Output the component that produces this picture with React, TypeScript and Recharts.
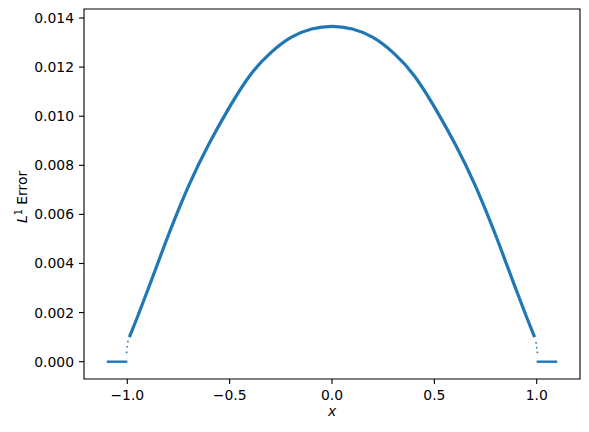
import {
  ComposedChart,
  Line,
  Scatter,
  XAxis,
  YAxis,
  ReferenceArea,
} from "recharts";

// values
const curveX = [
  -0.99, -0.95, -0.9, -0.85, -0.8, -0.7, -0.6, -0.5, -0.4, -0.3, -0.2, -0.1, 0,
  0.1, 0.2, 0.3, 0.4, 0.5, 0.6, 0.7, 0.8, 0.85, 0.9, 0.95, 0.99,
];
const curveErr = [
  0.001, 0.00183, 0.00292, 0.00403, 0.00514, 0.00717, 0.00889, 0.01038,
  0.01167, 0.01258, 0.01321, 0.01355, 0.01366, 0.01355, 0.01321, 0.01258,
  0.01167, 0.01038, 0.00889, 0.00717, 0.00514, 0.00403, 0.00292, 0.00183,
  0.001,
];
const leftFlatX = [-1.1, -1.0];
const rightFlatX = [1.0, 1.1];
const flatErr = [0, 0];
const edgeX = [-1.003, -1.0, -0.997, 0.997, 1.0, 1.003];
const edgeErr = [0.00038, 0.00061, 0.00082, 0.00077, 0.00057, 0.00038];
const xTicks = [-1, -0.5, 0, 0.5, 1];
const yTicks = [0, 0.002, 0.004, 0.006, 0.008, 0.01, 0.012, 0.014];

const zip = (xs: number[], vs: number[]) => xs.map((x, i) => ({ x, v: vs[i] }));
const curve = zip(curveX, curveErr);
const leftFlat = zip(leftFlatX, flatErr);
const rightFlat = zip(rightFlatX, flatErr);
const edges = zip(edgeX, edgeErr);

const X_DOMAIN: [number, number] = [-1.2115, 1.2115];
const Y_DOMAIN: [number, number] = [-0.000705, 0.014367];
const BLUE = "#1f77b4";
const FONT = "DejaVu Sans";
const tickStyle = { fill: "#000", fontSize: 13.9, fontFamily: FONT };

const fmtX = (v: number) => v.toFixed(1).replace("-", "\u2212");
const fmtY = (v: number) => v.toFixed(3);

const Dot = (props: any) => (
  <rect x={props.cx - 0.8} y={props.cy - 0.8} width={1.6} height={1.6} fill={BLUE} />
);

export default function App() {
  return (
    <div style={{ position: "absolute", left: 0, top: 0, width: 589, height: 432, background: "#fff" }}>
      <ComposedChart
        width={589}
        height={432}
        margin={{ top: 9, right: 9, bottom: 23, left: 8 }}
      >
        <XAxis
          type="number"
          dataKey="x"
          domain={X_DOMAIN}
          allowDataOverflow
          ticks={xTicks}
          tickFormatter={fmtX}
          tick={tickStyle}
          tickSize={5}
          tickMargin={6}
          height={30}
          axisLine={false}
          tickLine={{ stroke: "#000", strokeWidth: 1.1 }}
        />
        <YAxis
          type="number"
          domain={Y_DOMAIN}
          allowDataOverflow
          ticks={yTicks}
          tickFormatter={fmtY}
          tick={tickStyle}
          tickSize={5}
          tickMargin={5}
          width={76}
          axisLine={false}
          tickLine={{ stroke: "#000", strokeWidth: 1.1 }}
        />
        <ReferenceArea
          x1={X_DOMAIN[0]}
          x2={X_DOMAIN[1]}
          y1={Y_DOMAIN[0]}
          y2={Y_DOMAIN[1]}
          fill="none"
          stroke="#000"
          strokeWidth={1.1}
          fillOpacity={0}
        />
        <Line data={leftFlat} dataKey="v" type="linear" stroke={BLUE} strokeWidth={2.4} dot={false} isAnimationActive={false} />
        <Line data={rightFlat} dataKey="v" type="linear" stroke={BLUE} strokeWidth={2.4} dot={false} isAnimationActive={false} />
        <Line data={curve} dataKey="v" type="natural" stroke={BLUE} strokeWidth={3.2} dot={false} isAnimationActive={false} />
        <Scatter data={edges} dataKey="v" fill={BLUE} shape={Dot} isAnimationActive={false} />
      </ComposedChart>
      <svg
        width={589}
        height={432}
        style={{ position: "absolute", left: 0, top: 0, pointerEvents: "none" }}
      >
        <text
          x={332}
          y={416}
          textAnchor="middle"
          fontFamily={FONT}
          fontSize={13.9}
          fontStyle="italic"
        >
          x
        </text>
        <text
          x={26.5}
          y={197}
          transform="rotate(-90, 26.5, 197)"
          textAnchor="middle"
          fontFamily={FONT}
          fontSize={13.9}
        >
          <tspan fontStyle="italic">L</tspan>
          <tspan dy={-5} fontSize={9.7}>1</tspan>
          <tspan dy={5}> Error</tspan>
        </text>
      </svg>
    </div>
  );
}
